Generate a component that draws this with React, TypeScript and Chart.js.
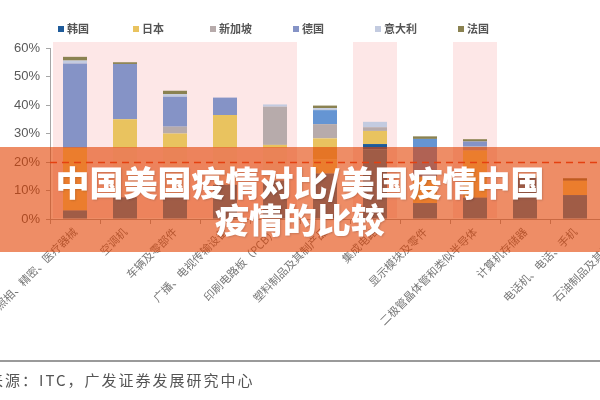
import React, { useEffect, useRef } from "react";
import { Chart, registerables } from "chart.js";
Chart.register(...registerables);

const categories = [
  "光学、照相、精密、医疗器械",
  "空调机",
  "车辆及零部件",
  "广播、电视传输设备",
  "印刷电路板（PCB）",
  "塑料制品及其制产品",
  "集成电路",
  "显示模块及零件",
  "二极管晶体管和类似半导体",
  "计算机存储器",
  "电话机、电话、手机",
  "石油制品及其制成品",
];

const yTicks = [0, 10, 20, 30, 40, 50, 60];
const threshold = 20;
const shadedCategories = [0, 1, 2, 3, 4, 6, 8];

const chinaMainland = [3, 7.6, 9, 12, 13.5, 16, 24.5, 5.6, 7.5, 14.5, 8.4, 10];
const mexico = [22, 0, 0, 0, 0, 5, 0, 9.2, 16.5, 0.5, 5.0, 4];
const vietnam = [0, 17.4, 16, 13, 11.5, 0, 0, 0, 0, 0, 0, 0];
const korea = [0, 0, 0, 0, 0, 0, 1.8, 0, 0, 0, 0, 0];
const japan = [0, 10, 5, 11.5, 1, 7.3, 4.6, 0, 0, 0, 0, 0];
const singapore = [0, 0, 2.4, 0, 13.4, 5.0, 1.3, 0, 1.4, 0, 0, 0];
const germany = [29.6, 19.4, 10.5, 6.1, 0, 0, 0, 0, 1.8, 0, 0, 0];
const taiwan = [0, 0, 0, 0, 0, 4.9, 0, 13.3, 0, 0, 0, 0];
const italy = [1.0, 0, 0.9, 0, 0.8, 0.7, 1.9, 0, 0, 0, 0, 0];
const france = [1.3, 0.6, 1.2, 0, 0, 0.9, 0, 0.9, 0.8, 0, 0.9, 0];

const legendNames = ["韩国", "日本", "新加坡", "德国", "意大利", "法国"];

const COLORS: Record<string, string> = {
  中国大陆: "#3c84af",
  墨西哥: "#f8d870",
  越南: "#f6e6da",
  韩国: "#1f5b9a",
  日本: "#e9c35f",
  新加坡: "#b7abab",
  德国: "#8593c6",
  中国台湾: "#6595d3",
  意大利: "#c3cbe0",
  法国: "#8a8251",
};

const seriesList: [string, number[]][] = [
  ["中国大陆", chinaMainland],
  ["墨西哥", mexico],
  ["越南", vietnam],
  ["韩国", korea],
  ["日本", japan],
  ["新加坡", singapore],
  ["德国", germany],
  ["中国台湾", taiwan],
  ["意大利", italy],
  ["法国", france],
];

const bgPlugin = {
  id: "bands",
  beforeDraw(chart: any) {
    const { ctx, chartArea, scales } = chart;
    const xs = scales.x;
    ctx.save();
    ctx.fillStyle = "#fde7e7";
    shadedCategories.forEach((i) => {
      const cx = xs.getPixelForValue(i);
      let left = cx - 22;
      let right = cx + 22;
      if (shadedCategories.includes(i - 1)) left = cx - 25;
      if (shadedCategories.includes(i + 1)) right = cx + 25;
      ctx.fillRect(left, chartArea.top - 6, right - left, chartArea.bottom - chartArea.top + 5);
    });
    ctx.restore();
  },
  afterDatasetsDraw(chart: any) {
    const { ctx, chartArea, scales } = chart;
    const y = Math.round(scales.y.getPixelForValue(threshold)) + 0.5;
    ctx.save();
    ctx.strokeStyle = "#e8402a";
    ctx.lineWidth = 1.5;
    ctx.setLineDash([7, 5]);
    ctx.beginPath();
    ctx.moveTo(chartArea.left, y);
    ctx.lineTo(chartArea.right, y);
    ctx.stroke();
    ctx.restore();
  },
  afterDraw(chart: any) {
    const { ctx } = chart;
    const xs = [58, 133, 210, 293, 375, 458];
    ctx.save();
    ctx.font = 'bold 11px "Noto Sans CJK SC"';
    ctx.textBaseline = "middle";
    legendNames.forEach((name, i) => {
      ctx.fillStyle = COLORS[name];
      ctx.fillRect(xs[i], 26, 6, 6);
      ctx.fillStyle = "#555555";
      ctx.fillText(name, xs[i] + 9, 29);
    });
    ctx.restore();
  },
};

export default function App() {
  const ref = useRef<HTMLCanvasElement>(null);
  useEffect(() => {
    const chart = new Chart(ref.current as HTMLCanvasElement, {
      type: "bar",
      data: {
        labels: categories,
        datasets: seriesList.map(([name, values]) => ({
          label: name,
          data: values,
          backgroundColor: COLORS[name],
          borderWidth: 0,
          barPercentage: 0.48,
          categoryPercentage: 1,
        })),
      },
      options: {
        responsive: false,
        animation: false,
        devicePixelRatio: 1,
        layout: { padding: { top: 48, left: 0, right: 10, bottom: 0 } },
        plugins: { legend: { display: false }, tooltip: { enabled: false } },
        scales: {
          x: {
            stacked: true,
            offset: true,
            grid: { display: true, drawOnChartArea: false, tickLength: 5, color: "#a6a6a6", offset: true },
            border: { display: true, color: "#a6a6a6" },
            ticks: {
              autoSkip: false,
              maxRotation: 45,
              minRotation: 45,
              padding: 1,
              color: "#777777",
              font: { family: '"Noto Sans CJK SC"', size: 11 },
            },
            afterFit: (s: any) => {
              s.height = 181;
              s.paddingLeft = 0;
              s.paddingRight = 0;
            },
          },
          y: {
            stacked: true,
            min: yTicks[0],
            max: yTicks[yTicks.length - 1],
            afterBuildTicks: (s: any) => {
              s.ticks = yTicks.map((v) => ({ value: v }));
            },
            ticks: {
              padding: 6,
              color: "#595959",
              font: { family: '"Liberation Sans"', size: 13 },
              callback: (v: any) => v + "%",
            },
            grid: { drawOnChartArea: false, tickLength: 4, color: "#a6a6a6" },
            border: { display: true, color: "#a6a6a6" },
            afterFit: (s: any) => {
              s.width = 50;
            },
          },
        },
      },
      plugins: [bgPlugin],
    });
    return () => chart.destroy();
  }, []);

  return (
    <div style={{ position: "absolute", left: 0, top: 0, width: 600, height: 400, overflow: "hidden", background: "#fff" }}>
      <canvas ref={ref} width={660} height={400} style={{ position: "absolute", left: 0, top: 0, width: 660, height: 400 }} />
      <div style={{ position: "absolute", left: 0, top: 360, width: 600, height: 2, background: "#9a9a9a" }} />
      <div
        style={{
          position: "absolute",
          left: -46,
          top: 369,
          whiteSpace: "nowrap",
          fontFamily: '"Noto Sans CJK SC"',
          fontSize: 15,
          lineHeight: "22px",
          color: "#555",
          letterSpacing: 2,
        }}
      >
        资料来源：ITC，广发证券发展研究中心
      </div>
      <div
        style={{
          position: "absolute",
          left: 0,
          top: 147,
          width: 600,
          height: 105,
          background: "rgba(227,65,0,0.6)",
          display: "flex",
          alignItems: "center",
          justifyContent: "center",
          textAlign: "center",
          color: "#fff",
          fontFamily: '"Noto Sans CJK SC"',
          fontWeight: 900,
          fontSize: 34,
          lineHeight: "37px",
          textShadow: "1px 1px 2px rgba(0,0,0,0.15)",
        }}
      >
        中国美国疫情对比/美国疫情中国
        <br />
        疫情的比较
      </div>
    </div>
  );
}
